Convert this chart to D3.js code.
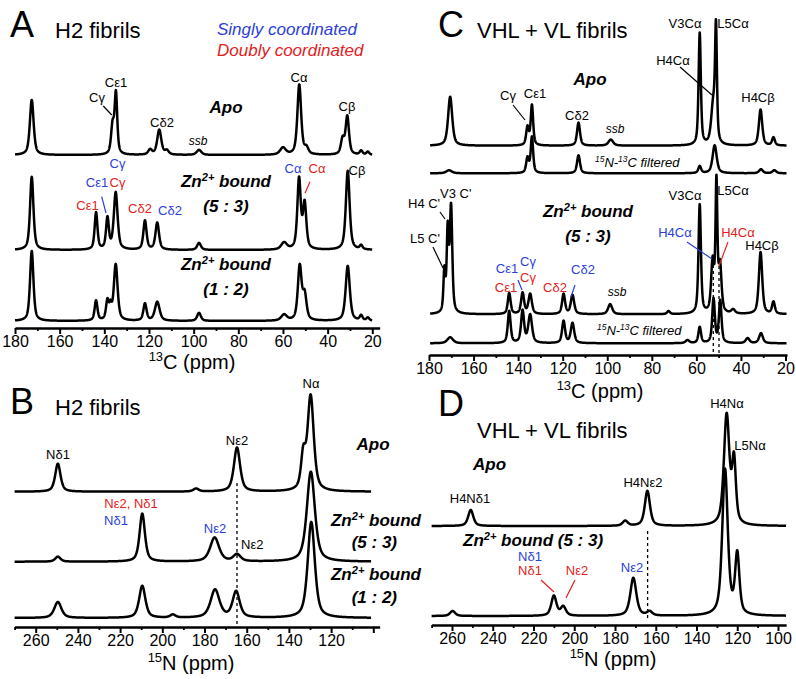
<!DOCTYPE html>
<html><head><meta charset="utf-8">
<script src="https://cdn.jsdelivr.net/npm/d3@7"></script>
<style>
body{margin:0;background:#fff}
svg{display:block}
text{font-family:"Liberation Sans",Arial,Helvetica,sans-serif}
</style></head>
<body><svg id="fig" width="796" height="679"></svg>
<script>
// ---------------- DATA (peaks: [ppm, intensity, FWHM ppm]) ----------------
const ticksC13Major = [180,160,140,120,100,80,60,40,20];
const ticksC13Minor = [170,150,130,110,90,70,50,30];
const ticksN15Major = [260,240,220,200,180,160,140,120,100];
const ticksN15Labels = [260,240,220,200,180,160,140,120];
const ticksN15LabelsD = [260,240,220,200,180,160,140,120,100];
const ticksN15Minor = [270,250,230,210,190,170,150,130,110];

const peaksA_apo = [[172.5,55,2.0],[136.3,28,1.6],[134.8,60,1.4],[119.5,5,2],[115.4,25,2.2],[112,4,2],[97.6,5,2.5],[60,7,3],[52.7,70,2.0],[49.5,6,2],[33.3,15,1.8],[31.2,38,1.8],[25,4,1.5],[22,3,1.5]];
const peaksA_zn53 = [[172.5,73,1.8],[143.7,37,1.5],[138.6,31,1.5],[134.9,57,2.0],[121.8,29,1.7],[116.3,27,1.9],[97.6,7,2],[59.5,7,3],[52.8,70,1.8],[50.3,45,1.8],[31,79,2.0],[25,4,1.5]];
const peaksA_zn12 = [[172.5,70,1.8],[143.7,20,1.5],[138.6,19,1.5],[137.2,12,1.2],[134.9,56,2.0],[121.8,17,1.7],[116.3,19,2.5],[97.6,8,2],[59.5,6,3],[52.5,54,2.0],[50.3,25,2],[31,55,2.2],[25,5,1.5],[22,3,1.5]];

const peaksB_apo = [[249.5,28,3],[184,3,3],[164.6,44,3.5],[133.2,33,2.5],[129.7,95,3.5]];
const peaksB_zn53 = [[249.5,5,3],[209.5,48,3],[175.2,24,5],[164.6,7,4],[129.6,90,4.5]];
const peaksB_zn12 = [[249.5,16,4],[209.5,32,3.5],[195,3,3],[175,28,5],[165,26,4],[129.4,96,4]];

const peaksC_apo = [[170.5,49,2.2],[135.8,18,1.4],[133.8,40,1.3],[112.9,23,1.6],[98.4,6,2.5],[58.5,112,1.2],[52.4,40,2.2],[51.2,108,1.0],[31.2,36,1.8],[25.4,8,1.5]];
const peaksC_apoFilt = [[171,3,3],[135.8,15,1.4],[133.8,36,1.3],[112.9,18,1.6],[58.5,7,1.5],[51.8,28,2.2],[31,4,2],[25,3,2]];
const peaksC_zn = [[173.1,40,1.0],[171.6,80,1.1],[170.1,105,1.3],[144,21,1.5],[138,21,1.6],[134.6,20,1.8],[119.6,20,1.6],[115.6,19,1.8],[98.7,10,2.2],[72.5,3,1.5],[58.5,109,1.3],[52.7,50,1.6],[51,126,1.0],[49.4,46,1.6],[43.5,4,2],[31.2,62,1.8],[25.4,12,1.5]];
const peaksC_znFilt = [[170.5,6,3],[144,32,1.5],[138,32,1.6],[134.6,28,2],[119.6,22,1.6],[115.6,20,1.8],[64,3,2],[58.5,16,1.4],[52.3,44,1.4],[49.3,42,1.4],[37,5,2],[31,10,2]];

const peaksD_apo = [[250.8,16,3],[175,5,3],[164.1,35,3],[125.2,110,3.2],[121.6,62,2.2]];
const peaksD_zn = [[259.7,5,3],[210,20,3],[205.4,9,3],[171,38,3.5],[163,4,3],[126,146,3.2],[120,60,2.5]];

// ---------------- HELPERS ----------------
const svg = d3.select('#fig');
const BLUE = '#2c3ed8', RED = '#e3211c';

function shape(ppm, peaks){
  let s = 0;
  for (const [c,h,w] of peaks){
    const u = (ppm-c)/(w/2);
    const u2 = u*u;
    s += h*(0.6/(1+u2) + 0.4*Math.exp(-Math.LN2*u2));
  }
  return s;
}
function trace(x, base, peaks, from, to){
  const y = d3.scaleLinear().domain([0,100]).range([base, base-100]);
  const pts = d3.range(from, to, -0.05).map(p => [p, shape(p, peaks)]);
  svg.append('path').datum(pts)
    .attr('fill','none').attr('stroke','#000').attr('stroke-width',2.5)
    .attr('stroke-linejoin','round')
    .attr('d', d3.line().x(d=>x(d[0])).y(d=>y(d[1])));
}
function rich(sel, str){
  const fs = parseFloat(sel.attr('font-size'));
  const parts = str.split(/(\^\{[^}]*\})/).filter(s=>s.length);
  let shift = 0;
  parts.forEach(p=>{
    if (p.startsWith('^{')){
      sel.append('tspan').attr('font-size', fs*0.65).attr('dy', -fs*0.38).text(p.slice(2,-1));
      shift = fs*0.38;
    } else {
      sel.append('tspan').attr('dy', shift).text(p);
      shift = 0;
    }
  });
}
function txt(x, y, s, o={}){
  const t = svg.append('text').attr('x',x).attr('y',y)
    .attr('font-size', o.size||13)
    .attr('fill', o.color||'#000')
    .attr('text-anchor', o.anchor||'middle')
    .attr('font-style', o.italic?'italic':'normal')
    .attr('font-weight', o.bold?'bold':'normal');
  rich(t, s);
  return t;
}
function seg(x1,y1,x2,y2,color='#000',dash=null,w=1.2){
  const l = svg.append('line').attr('x1',x1).attr('y1',y1).attr('x2',x2).attr('y2',y2)
    .attr('stroke',color).attr('stroke-width',w);
  if (dash) l.attr('stroke-dasharray',dash);
}
function axis(x, dom, y, major, minor, labels){
  const xs = x.copy().domain(dom).range(dom.map(x));
  const gMin = svg.append('g').attr('transform',`translate(0,${y})`)
    .call(d3.axisBottom(xs).tickValues(minor).tickSize(3).tickFormat(''));
  gMin.select('.domain').remove();
  gMin.selectAll('line').attr('stroke-width',1.8);
  const g = svg.append('g').attr('transform',`translate(0,${y})`)
    .call(d3.axisBottom(xs).tickValues(major).tickSize(6).tickSizeOuter(0).tickPadding(2)
      .tickFormat(d => labels.includes(d) ? d : ''));
  g.attr('font-size',null).attr('font-family',null);
  g.select('.domain').attr('stroke-width',2.6);
  g.selectAll('.tick line').attr('stroke-width',2);
  g.selectAll('.tick text').attr('font-size',16).attr('fill','#000');
}

// ---------------- SCALES ----------------
const xA = d3.scaleLinear().domain([180,20]).range([15,372.3]);
const xB = d3.scaleLinear().domain([260,200]).range([35.7,162.3]);
const xC = d3.scaleLinear().domain([180,20]).range([429,785.5]);
const xD = d3.scaleLinear().domain([260,100]).range([452,778]);

const TITLE = 22, AX = 20, SUB = 17;

// ================= PANEL A =================
trace(xA, 155, peaksA_apo, 180, 20);
trace(xA, 250, peaksA_zn53, 180, 20);
trace(xA, 321, peaksA_zn12, 180, 20);
axis(xA, [180,16.7], 328, ticksC13Major, ticksC13Minor, ticksC13Major);
txt(10, 37, 'A', {size:36, anchor:'start'});
txt(55, 38, 'H2 fibrils', {size:TITLE, anchor:'start'});
txt(217, 35, 'Singly coordinated', {size:SUB, anchor:'start', italic:true, color:BLUE});
txt(217, 56, 'Doubly coordinated', {size:SUB, anchor:'start', italic:true, color:RED});
txt(116, 87, 'Cε1');
txt(97, 102, 'Cγ'); seg(103.3,106,111.7,115);
txt(226, 113, 'Apo', {size:17, bold:true, italic:true});
txt(162, 127, 'Cδ2');
txt(198, 145, 'ssb', {size:12, italic:true});
txt(299, 82, 'Cα');
txt(347, 111, 'Cβ');
txt(117.5, 168, 'Cγ', {color:BLUE});
txt(97, 186.7, 'Cε1', {color:BLUE});
txt(117.5, 187, 'Cγ', {color:RED});
seg(101.7,196.7,106,213, BLUE);
txt(87.5, 210, 'Cε1', {color:RED});
txt(140, 213, 'Cδ2', {color:RED});
txt(170, 215, 'Cδ2', {color:BLUE});
txt(226, 187, 'Zn^{2+} bound', {size:17, bold:true, italic:true});
txt(226, 212, '(5 : 3)', {size:17, bold:true, italic:true});
txt(293, 173, 'Cα', {color:BLUE});
txt(317, 173, 'Cα', {color:RED});
seg(310,181.7,305,193.3, RED);
txt(357, 175, 'Cβ');
txt(226, 270, 'Zn^{2+} bound', {size:17, bold:true, italic:true});
txt(226, 295, '(1 : 2)', {size:17, bold:true, italic:true});
txt(192, 369, '^{13}C (ppm)', {size:AX});

// ================= PANEL B =================
seg(xB(164.6), 483, xB(164.6), 627, '#000', '3,3', 1.3);
trace(xB, 491.7, peaksB_apo, 270, 101);
trace(xB, 561.7, peaksB_zn53, 270, 101);
trace(xB, 618, peaksB_zn12, 270, 101);
axis(xB, [270,97], 627, ticksN15Major, ticksN15Minor, ticksN15Labels);
txt(10, 414, 'B', {size:36, anchor:'start'});
txt(55, 415, 'H2 fibrils', {size:TITLE, anchor:'start'});
txt(311, 388, 'Nα');
txt(373, 450, 'Apo', {size:17, bold:true, italic:true});
txt(58, 459, 'Nδ1');
txt(237, 445, 'Nε2');
txt(131, 508, 'Nε2, Nδ1', {color:RED});
txt(116, 525, 'Nδ1', {color:BLUE});
txt(215, 533, 'Nε2', {color:BLUE});
txt(241, 549.3, 'Nε2', {anchor:'start'});
txt(421, 526, 'Zn^{2+} bound', {size:17, bold:true, italic:true, anchor:'end'});
txt(397, 548, '(5 : 3)', {size:17, bold:true, italic:true, anchor:'end'});
txt(421, 580, 'Zn^{2+} bound', {size:17, bold:true, italic:true, anchor:'end'});
txt(397, 603, '(1 : 2)', {size:17, bold:true, italic:true, anchor:'end'});
txt(191, 670, '^{15}N (ppm)', {size:AX});

// ================= PANEL C =================
seg(713.3, 259, 713.3, 355, '#000', '3,3', 1.3);
seg(719, 266, 719, 355, '#000', '3,3', 1.3);
trace(xC, 145.7, peaksC_apo, 179.5, 19.5);
trace(xC, 173.3, peaksC_apoFilt, 179.5, 19.5);
trace(xC, 314.3, peaksC_zn, 179.5, 19.5);
trace(xC, 343.3, peaksC_znFilt, 179.5, 19.5);
axis(xC, [180,19.3], 355, ticksC13Major, ticksC13Minor, ticksC13Major);
txt(438, 37, 'C', {size:36, anchor:'start'});
txt(477, 38, 'VHL + VL fibrils', {size:TITLE, anchor:'start'});
txt(590, 85, 'Apo', {size:17, bold:true, italic:true});
txt(508, 100, 'Cγ'); seg(513,105,525,120);
txt(535, 98, 'Cε1');
txt(577, 120, 'Cδ2');
txt(615, 133, 'ssb', {size:12, italic:true});
txt(685, 28, 'V3Cα');
txt(733, 28, 'L5Cα');
txt(673, 65, 'H4Cα'); seg(680,67,712,95);
txt(758, 102, 'H4Cβ');
txt(595, 167, '^{15}N-^{13}C filtered', {anchor:'start', italic:true});
txt(408, 208, "H4 C'", {anchor:'start'}); seg(440,212,445,219);
txt(440, 198, "V3 C'", {anchor:'start'});
txt(410, 243, "L5 C'", {anchor:'start'}); seg(433,247,443,268);
txt(588, 217, 'Zn^{2+} bound', {size:17, bold:true, italic:true});
txt(588, 242, '(5 : 3)', {size:17, bold:true, italic:true});
txt(685, 200, 'V3Cα');
txt(733, 195, 'L5Cα');
txt(675, 237, 'H4Cα', {color:BLUE}); seg(687,242,712,259, BLUE);
txt(738, 237, 'H4Cα', {color:RED}); seg(728,242,719,266, RED);
txt(762, 250, 'H4Cβ');
txt(507, 273, 'Cε1', {color:BLUE});
txt(528, 266, 'Cγ', {color:BLUE});
txt(506, 292, 'Cε1', {color:RED});
txt(528, 282, 'Cγ', {color:RED});
seg(518,280,522,290, BLUE);
txt(555, 292, 'Cδ2', {color:RED});
txt(583, 274, 'Cδ2', {color:BLUE}); seg(575,285,571,297, BLUE);
txt(617, 296, 'ssb', {size:12, italic:true});
txt(597, 335, '^{15}N-^{13}C filtered', {anchor:'start', italic:true});
txt(600, 398, '^{13}C (ppm)', {size:AX});

// ================= PANEL D =================
seg(xD(164), 531, xD(164), 620, '#000', '3,3', 1.3);
trace(xD, 526, peaksD_apo, 270, 96);
trace(xD, 616, peaksD_zn, 270, 96);
axis(xD, [270,96], 625, ticksN15Major, ticksN15Minor, ticksN15LabelsD);
txt(438, 416, 'D', {size:36, anchor:'start'});
txt(477, 438, 'VHL + VL fibrils', {size:TITLE, anchor:'start'});
txt(727, 408, 'H4Nα');
txt(750, 450, 'L5Nα');
txt(473, 470, 'Apo', {size:17, bold:true, italic:true, anchor:'start'});
txt(643, 487, 'H4Nε2');
txt(470, 503, 'H4Nδ1');
txt(463, 546, 'Zn^{2+} bound (5 : 3)', {size:17, bold:true, italic:true, anchor:'start'});
txt(530, 561, 'Nδ1', {color:BLUE});
txt(530, 575, 'Nδ1', {color:RED});
txt(577, 575, 'Nε2', {color:RED});
seg(541,580,554,592, RED); seg(575,580,566,598, RED);
txt(632, 572, 'Nε2', {color:BLUE});
txt(613, 666, '^{15}N (ppm)', {size:AX});
</script>
</body></html>
